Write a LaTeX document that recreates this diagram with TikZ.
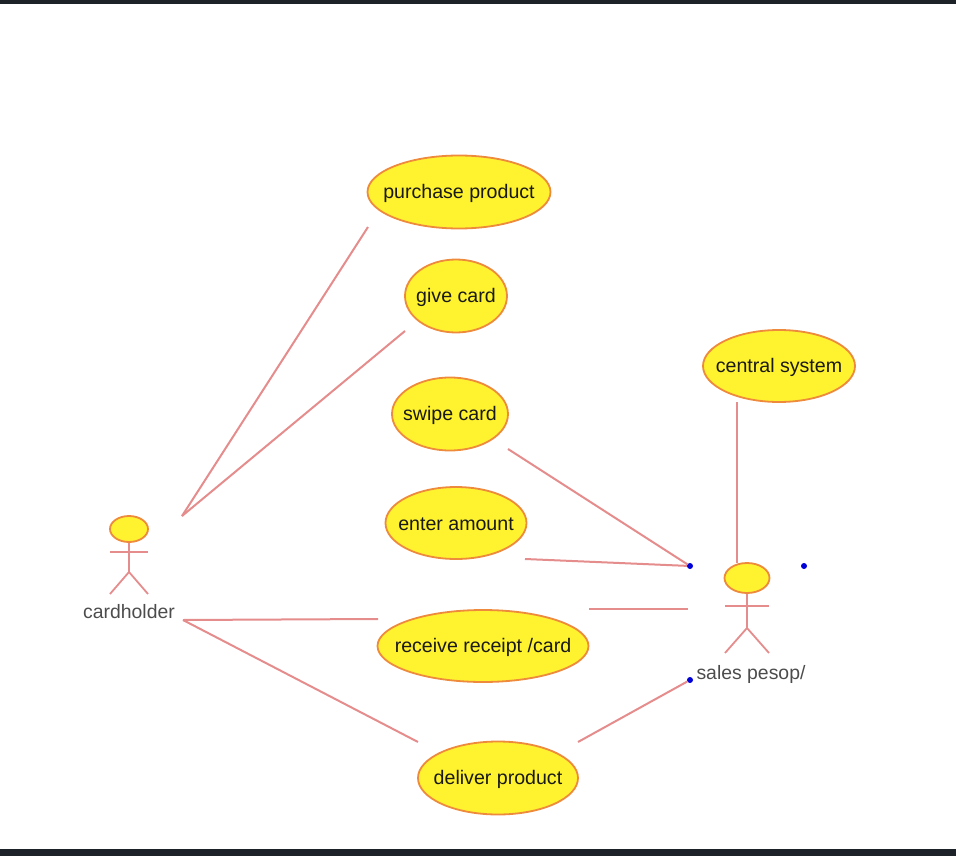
\documentclass[tikz,border=0pt]{standalone}
\usepackage{fontspec}
\setmainfont{Liberation Sans}
\usepackage{xcolor}
\usetikzlibrary{positioning,shapes.geometric}
\definecolor{caseFill}{HTML}{FFF22E}
\definecolor{caseLine}{HTML}{EE8A3C}
\definecolor{linkLine}{HTML}{E58C8C}
\definecolor{frameBar}{HTML}{1C2228}
\tikzset{
    usecase/.style={ellipse, draw=caseLine, fill=caseFill, line width=1.8pt, inner sep=0pt},
    casetext/.style={inner sep=0pt, yshift=-1.5pt, text=black!90, font=\fontsize{19.6}{22}\selectfont},
    link/.style={draw=linkLine, line width=2pt},
    actorline/.style={draw=linkLine, line width=1.8pt},
    actorlabel/.style={inner sep=0pt, text=black!70, font=\fontsize{19.4}{22}\selectfont},
    handle/.style={circle, fill=blue!85!black, inner sep=0pt, minimum size=6pt}
}
\begin{document}
\begin{tikzpicture}[x=1pt, y=-1pt]
    \useasboundingbox (0,0) rectangle (956,856);
    \fill[frameBar] (0,0) rectangle (956,4);
    \fill[frameBar] (0,849) rectangle (956,856);

    % Use cases
    \node[usecase, minimum width=183pt, minimum height=73pt, label={[casetext]center:purchase product}] (purchase) at (459,192) {};
    \node[usecase, minimum width=102pt, minimum height=73pt, label={[casetext]center:give card}] (give) at (456,296) {};
    \node[usecase, minimum width=116pt, minimum height=73pt, label={[casetext]center:swipe card}] (swipe) at (450,414) {};
    \node[usecase, minimum width=141pt, minimum height=72pt, label={[casetext]center:enter amount}] (enter) at (456,523) {};
    \node[usecase, minimum width=211pt, minimum height=72pt, label={[casetext]center:receive receipt /card}] (receive) at (483,646) {};
    \node[usecase, minimum width=160pt, minimum height=73pt, label={[casetext]center:deliver product}] (deliver) at (498,778) {};
    \node[usecase, minimum width=152pt, minimum height=72pt, label={[casetext]center:central system}] (central) at (779,366) {};

    % Cardholder actor
    \node[usecase, minimum width=38pt, minimum height=26pt] (cardhead) at (129,529) {};
    \coordinate (cardhip) at (129,572);
    \draw[actorline] (cardhead.south) -- (cardhip);
    \draw[actorline] (110,552) -- (148,552);
    \draw[actorline] (cardhip) -- (110,594);
    \draw[actorline] (cardhip) -- (148,594);
    \node[actorlabel] (cardlabel) at (129,612) {cardholder};

    % Sales person actor
    \node[usecase, minimum width=45pt, minimum height=30pt] (saleshead) at (747,578) {};
    \coordinate (saleship) at (747,628);
    \draw[actorline] (saleshead.south) -- (saleship);
    \draw[actorline] (725,606) -- (769,606);
    \draw[actorline] (saleship) -- (725,653);
    \draw[actorline] (saleship) -- (769,653);
    \node[actorlabel] (saleslabel) at (751,674) {sales pesop/};

    % Free ends of the links
    \coordinate (cardtop) at (182,516);
    \coordinate (cardlow) at (183,620);
    \coordinate (purchaseend) at (368,227);
    \coordinate (giveend) at (405,331);
    \coordinate (swipeend) at (508,449);
    \coordinate (enterend) at (525,559);
    \coordinate (receiveleft) at (378,619);
    \coordinate (receiveright) at (589,609);
    \coordinate (salesmid) at (688,609);
    \coordinate (deliverleft) at (418,742);
    \coordinate (deliverright) at (578,742);
    \coordinate (centralend) at (737,402);
    \coordinate (centralfoot) at (737,563);

    % Links
    \draw[link] (purchaseend) -- (cardtop);
    \draw[link] (giveend) -- (cardtop);
    \draw[link] (receiveleft) -- (cardlow);
    \draw[link] (deliverleft) -- (cardlow);
    \draw[link] (centralend) -- (centralfoot);
    \draw[link] (receiveright) -- (salesmid);

    % Selection handles
    \node[handle] (hleft) at (690,566) {};
    \node[handle] (hright) at (804,566) {};
    \node[handle] (hlow) at (690,680) {};
    \draw[link] (swipeend) -- (hleft);
    \draw[link] (enterend) -- (hleft);
    \draw[link] (deliverright) -- (hlow);
\end{tikzpicture}
\end{document}
